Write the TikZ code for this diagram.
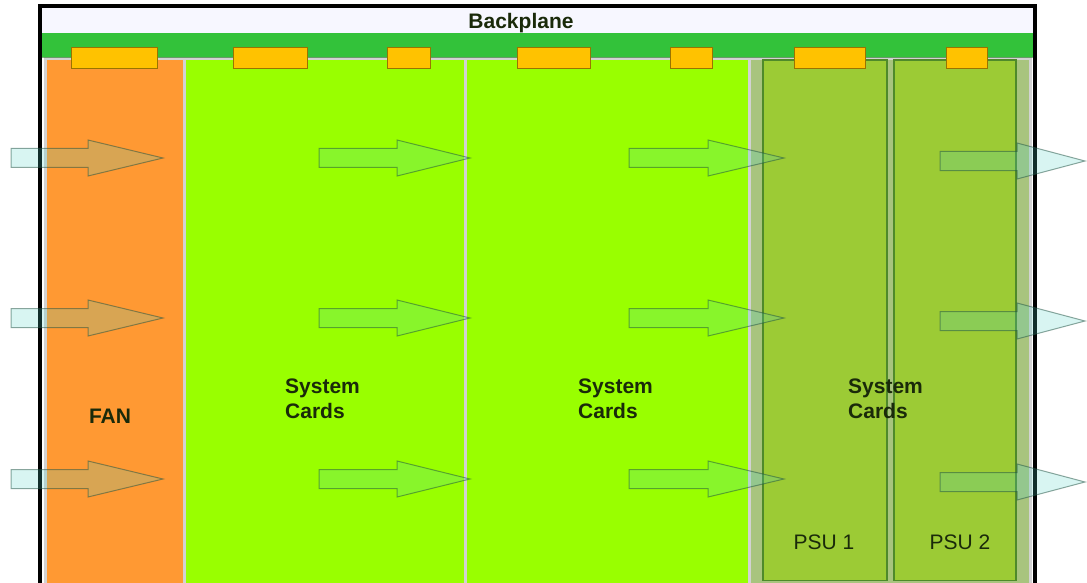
\documentclass[tikz,border=0pt]{standalone}
\usepackage{fontspec}
\setmainfont{Liberation Sans}
\definecolor{fanorange}{HTML}{FF9933}
\definecolor{cardgreen}{HTML}{99FF00}
\definecolor{psuarea}{HTML}{A8C47E}
\definecolor{psufill}{HTML}{9CCB35}
\definecolor{psuedge}{HTML}{4F8A2A}
\definecolor{bargreen}{HTML}{33C23A}
\definecolor{connfill}{HTML}{FFC200}
\definecolor{connedge}{HTML}{9A7400}
\definecolor{cardedge}{HTML}{D2D2D2}
\definecolor{flowfill}{RGB}{80,210,200}
\definecolor{flowedge}{HTML}{1E5040}
\definecolor{labelink}{HTML}{1A2A0A}
\newcommand\airflow[4]{%
  \draw[flow] (#1,#4-9.5) -- (#2,#4-9.5) -- (#2,#4-18) -- (#3,#4) -- (#2,#4+18) -- (#2,#4+9.5) -- (#1,#4+9.5) -- cycle;}
\tikzset{
  card/.style={draw=cardedge, line width=3pt},
  psu/.style={fill=psufill, draw=psuedge, line width=1.8pt},
  conn/.style={fill=connfill, draw=connedge, line width=1pt},
  flow/.style={fill=flowfill, fill opacity=0.22, draw=flowedge, draw opacity=0.5, line width=1pt},
  boldlabel/.style={font=\bfseries\fontsize{21}{25}\selectfont, text=labelink, inner sep=0pt},
  plainlabel/.style={font=\fontsize{21}{25}\selectfont, text=labelink, inner sep=0pt},
}
\begin{document}
\begin{tikzpicture}[x=1pt,y=-1pt]
\useasboundingbox (0,0) rectangle (1087,583);
\fill[white] (0,0) rectangle (1087,583);
% cards
\draw[card, fill=fanorange] (45.5,59) rectangle (184,600);
\draw[card, fill=cardgreen] (184,59) rectangle (465.5,600);
\draw[card, fill=cardgreen] (465.5,59) rectangle (749.5,600);
\draw[card, fill=psuarea] (749.5,59) rectangle (1030.5,600);
% PSUs
\draw[psu] (763,60) rectangle (887,580.5);
\draw[psu] (894,60) rectangle (1016,580.5);
% backplane
\fill[white!97!blue] (42,8) rectangle (1033,33);
\draw[gray!60, line width=0.8pt] (42,33) -- (1033,33);
\fill[bargreen] (42,33) rectangle (1033,57);
\draw[green!40!black, line width=0.8pt, opacity=0.5] (42,57) -- (1033,57);
% connectors
\draw[conn] (71,47.5) rectangle (157,69);
\draw[conn] (233,47.5) rectangle (307,69);
\draw[conn] (387,47.5) rectangle (430,69);
\draw[conn] (517,47.5) rectangle (590,69);
\draw[conn] (670,47.5) rectangle (712,69);
\draw[conn] (794,47.5) rectangle (865,69);
\draw[conn] (946,47.5) rectangle (987,69);
% frame
\draw[black, line width=4pt] (40,600) -- (40,6) -- (1035,6) -- (1035,600);
% air flow
\foreach \yy in {158,318,479}{
  \airflow{11}{88}{163}{\yy}
  \airflow{319}{397}{470}{\yy}
  \airflow{629}{708}{784}{\yy}
}
\foreach \yy in {161,321,482}{
  \airflow{940}{1017}{1085}{\yy}
}
% labels
\node[boldlabel, anchor=base] (bp) at (521,29) {Backplane};
\node[boldlabel, anchor=base] (fan) at (110,423) {FAN};
\node[boldlabel, anchor=west, align=left] (sc1) at (285,399) {System\\Cards};
\node[boldlabel, anchor=west, align=left] (sc2) at (578,399) {System\\Cards};
\node[boldlabel, anchor=west, align=left] (sc3) at (848,399) {System\\Cards};
\node[plainlabel, anchor=base] (psu1) at (824,549) {PSU 1};
\node[plainlabel, anchor=base] (psu2) at (960,549) {PSU 2};
\end{tikzpicture}
\end{document}
